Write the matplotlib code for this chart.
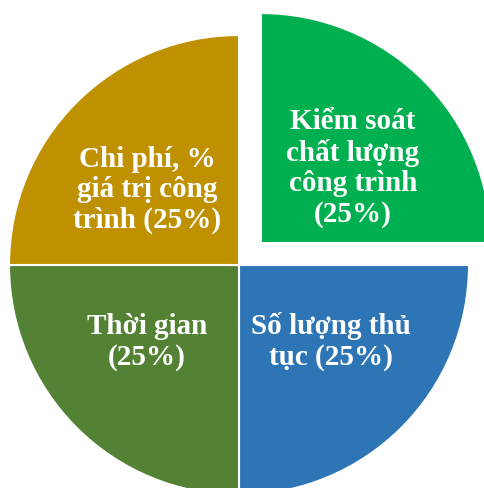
import matplotlib
matplotlib.use("Agg")
import numpy as np
import matplotlib.pyplot as plt

labels = ["Kiểm soát\nchất lượng\ncông trình\n(25%)",
          "Số lượng thủ\ntục (25%)",
          "Thời gian\n(25%)",
          "Chi phí, %\ngiá trị công\ntrình (25%)"]
shares = [25, 25, 25, 25]
colors = ["#00B050", "#2E75B6", "#548235", "#BF9000"]
explode = [0.135, 0, 0, 0]

plt.rcParams['font.family'] = ['Liberation Serif', 'DejaVu Serif']

fig = plt.figure(figsize=(4.84, 4.89), dpi=100)
ax = fig.add_axes([0, 0, 1, 1])

R = 230.0  # radius in pixels
cx, cy = 239.0, 266.0  # pie centre, pixels from top-left

wedges, texts = ax.pie(shares, labels=labels, colors=colors, explode=explode,
                       startangle=90, counterclock=False, radius=1.0,
                       wedgeprops=dict(edgecolor="white", linewidth=1.5),
                       textprops=dict(color="white", fontsize=21, fontweight="bold"))
for w, t in zip(wedges, texts):
    mid = np.deg2rad((w.theta1 + w.theta2) / 2)
    x0, y0 = w.center
    t.set_position((x0 + 0.40 * np.sign(np.cos(mid)), y0 + 0.33 * np.sign(np.sin(mid))))
    t.set_ha("center")
    t.set_va("center")
    t.set_multialignment("center")
    t.set_linespacing(1.17)

ax.set_aspect("auto")
ax.set_xlim(-cx / R, (484 - cx) / R)
ax.set_ylim((cy - 489) / R, cy / R)
ax.axis("off")

fig.savefig("out.png", dpi=100)
